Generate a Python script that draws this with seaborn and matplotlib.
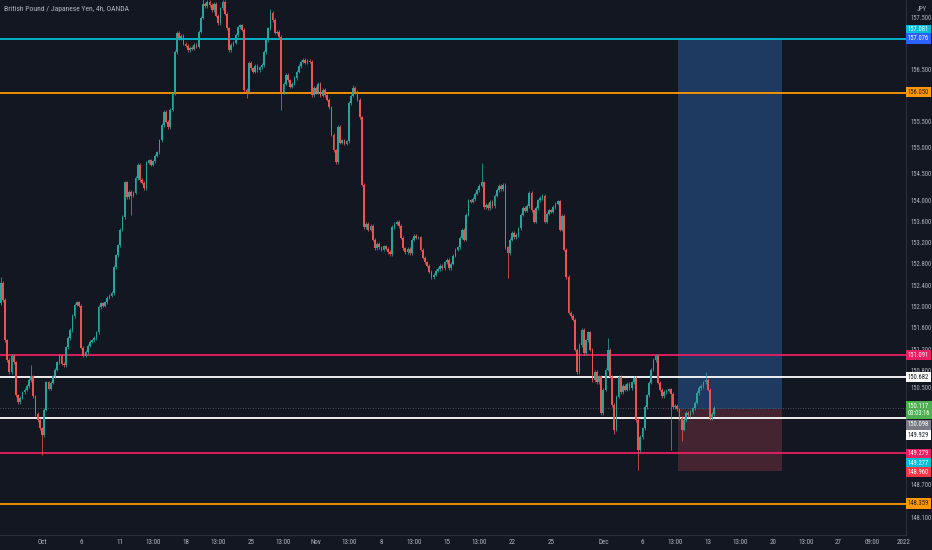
import matplotlib
matplotlib.use('Agg')
import matplotlib.pyplot as plt
import matplotlib.ticker as mticker
import matplotlib.transforms as mtrans
from matplotlib.patches import Rectangle
import seaborn as sns
import numpy as np

# ---- data (GBP/JPY, 4h candles) ----
first_open = 152.06
closes = [
    152.44, 152.12, 151.37, 151.00, 150.78, 151.08, 150.96, 150.35, 150.22, 150.30,
    150.40, 150.45, 150.52, 150.63, 150.70, 150.33, 150.00, 149.89, 149.74, 149.61,
    150.08, 150.59, 150.47, 150.58, 150.70, 150.82, 150.96, 151.08, 150.93, 150.91,
    151.24, 151.41, 151.56, 151.82, 152.03, 152.08, 152.01, 151.23, 151.08, 151.15,
    151.27, 151.34, 151.37, 151.41, 151.52, 151.99, 152.06, 152.01, 152.08, 152.16,
    152.20, 152.25, 152.74, 152.96, 153.15, 153.44, 153.68, 154.34, 154.06, 154.16,
    154.08, 154.14, 154.42, 154.67, 154.38, 154.33, 154.23, 154.71, 154.76, 154.67,
    154.74, 154.84, 154.91, 155.14, 155.43, 155.68, 155.49, 155.39, 155.72, 156.04,
    156.83, 157.20, 157.10, 157.14, 156.99, 156.95, 156.87, 156.91, 156.89, 156.97,
    156.93, 157.22, 157.49, 157.76, 157.72, 157.80, 157.74,
    157.64, 157.76, 157.53, 157.39, 157.68, 157.80, 157.57, 157.29, 156.87, 156.97,
    157.01, 157.16, 157.31, 157.35, 157.26, 156.10, 156.06, 156.62, 156.52, 156.45,
    156.56, 156.48, 156.54, 156.58, 156.83, 157.06, 157.29, 157.59, 157.45, 157.20,
    157.22, 157.12, 156.06, 156.22, 156.39, 156.29, 156.16, 156.22, 156.33, 156.45,
    156.56, 156.64, 156.68, 156.62, 156.66, 156.64, 156.00, 156.14, 156.06, 156.22,
    155.99, 156.10, 156.00, 155.91, 155.77, 155.24, 154.95, 154.72, 155.39, 155.09,
    155.14, 155.07, 155.12, 155.85, 155.99, 156.14, 156.06, 155.91, 155.58, 154.29,
    153.49, 153.55, 153.44, 153.51, 153.25, 153.09, 153.17, 153.11,
    153.06, 153.13, 153.08, 153.02, 152.98, 153.49, 153.55, 153.59, 153.51, 153.29,
    153.09, 153.02, 153.08, 153.00, 153.25, 153.32, 153.29, 153.30, 153.06, 152.91,
    152.83, 152.76, 152.65, 152.55, 152.59, 152.67, 152.70, 152.76, 152.72, 152.83,
    152.87, 152.72, 152.80, 152.95, 153.06, 153.11, 153.29, 153.44, 153.25, 153.72,
    154.00, 153.97, 154.02, 154.12, 154.19, 154.27, 154.34, 153.87, 153.91, 153.85,
    153.97, 153.89, 154.08, 154.19, 154.27, 154.21, 154.29, 153.11, 153.00, 153.25,
    153.38, 153.30, 153.34, 153.47, 153.72, 153.85, 153.80, 153.89, 154.14, 153.81,
    153.59, 153.85, 154.00, 154.04, 154.08, 153.59, 153.74, 153.81, 153.78, 153.87,
    153.93, 153.98, 153.44, 153.70, 153.06, 152.55, 151.88, 151.82, 151.75, 151.19,
    150.78, 151.28, 151.56, 151.13, 151.37, 151.52, 151.19, 150.63, 150.78, 150.59,
    150.70, 150.02, 150.45, 150.82, 151.19, 150.69, 150.17, 149.71, 150.32, 150.69,
    150.41, 150.52, 150.45, 150.56, 150.48, 150.59, 150.67, 149.89, 149.34, 149.58,
    149.74, 150.13, 150.35, 150.58, 150.82, 151.00, 151.08, 150.58, 150.45, 150.33,
    150.41, 150.43,
    150.46, 150.37, 150.13, 150.15, 150.09, 149.93, 149.71, 149.89, 150.02, 149.98,
    150.04, 150.11, 150.21, 150.39, 150.48, 150.52, 150.59, 150.63, 150.45, 149.93,
    150.00, 150.117,
]
# candles with clearly visible long wicks
long_high_idx = [0, 14, 93, 124, 162, 221, 279, 301, 324]
long_high_val = [152.55, 150.91, 157.95, 157.66, 156.20, 154.70, 151.41, 151.10, 150.78]
long_low_idx = [19, 60, 113, 129, 154, 233, 282, 293, 308, 313]
long_low_val = [149.25, 153.72, 155.95, 155.72, 154.68, 152.54, 149.64, 148.97, 149.34, 149.50]

# time axis: candle index of Oct 1 and trading days after it
oct1_index = 19
bars_per_day = 6
tick_labels = ['Oct', '6', '11', '13:00', '18', '13:00', '25', '13:00', 'Nov', '13:00',
               '8', '13:00', '15', '13:00', '22', '25', 'Dec', '6', '13:00', '13',
               '13:00', '20', '13:00', '27', '09:00', '2022']
tick_days = [0, 3, 6, 8.5, 11, 13.5, 16, 18.5, 21, 23.5, 26, 28.5, 31, 33.5, 36, 39,
             43, 46, 48.5, 51, 53.5, 56, 58.5, 61, 63.6, 66]

# horizontal levels
level_prices = [157.076, 156.050, 151.091, 150.682, 149.929, 149.279, 148.359]
level_colors = ['#00bcd4', '#ff9800', '#e91e63', '#ffffff', '#ffffff', '#e91e63', '#ff9800']

# long position tool
pos_entry = 150.098
pos_target = 157.081
pos_stop = 148.960
pos_start_day = 48.7
pos_end_day = 56.7

# right axis scale
ytick_vals = [157.5, 156.5, 155.5, 155.0, 154.5, 154.0, 153.6, 153.2, 152.8, 152.4,
              152.0, 151.6, 151.2, 150.8, 150.5, 150.2, 148.7, 148.1]

# coloured price tags on the axis: text, shown at, background, text colour
tag_texts = ['157.081', '157.076', '156.050', '151.091', '150.682', '150.117\n03:03:16',
             '150.098', '149.929', '149.279', '149.277', '148.960', '148.359']
tag_at = [157.26, 157.09, 156.06, 151.09, 150.68, 150.08, 149.80, 149.61, 149.27, 149.10,
          148.93, 148.36]
tag_bg = ['#00bcd4', '#2962ff', '#ff9800', '#e91e63', '#ffffff', '#4caf50', '#787b86',
          '#ffffff', '#e91e63', '#00bcd4', '#f23645', '#ff9800']
tag_fg = ['#ffffff', '#ffffff', '#1e1e1e', '#ffffff', '#131722', '#ffffff', '#ffffff',
          '#131722', '#ffffff', '#ffffff', '#ffffff', '#1e1e1e']

BG = '#131722'
GREEN = '#26a69a'
RED = '#ef5350'
TXT = '#b2b5be'

sns.set_theme(style='dark', rc={'axes.facecolor': BG, 'figure.facecolor': BG})
plt.rcParams['font.family'] = ['Roboto Condensed', 'DejaVu Sans']

fig = plt.figure(figsize=(9.32, 5.5), dpi=100)
ax = fig.add_axes([0, 15 / 550, 906 / 932, 535 / 550])
ax.set_facecolor(BG)

n = len(closes)
idx = np.arange(n)
c = np.array(closes)
o = np.r_[first_open, c[:-1]]
body_lo = np.minimum(o, c)
body_hi = np.maximum(o, c)
highs = body_hi + 0.03
lows = body_lo - 0.03
highs[long_high_idx] = np.maximum(highs[long_high_idx], long_high_val)
lows[long_low_idx] = np.minimum(lows[long_low_idx], long_low_val)
cols = np.where(c >= o, GREEN, RED)

ax.set_yscale('log')
ax.vlines(idx, lows, highs, colors=cols, linewidth=0.55, zorder=4)
ax.bar(idx, np.maximum(body_hi - body_lo, 0.012), bottom=body_lo, width=0.8,
       color=cols, linewidth=0, zorder=5)

# position boxes
x0 = oct1_index + bars_per_day * pos_start_day
x1 = oct1_index + bars_per_day * pos_end_day
ax.add_patch(Rectangle((x0, pos_entry), x1 - x0, pos_target - pos_entry,
                       facecolor='#1f3a60', edgecolor='none', zorder=1))
ax.add_patch(Rectangle((x0, pos_stop), x1 - x0, pos_entry - pos_stop,
                       facecolor='#432430', edgecolor='none', zorder=1))

for p, col in zip(level_prices, level_colors):
    ax.axhline(p, color=col, linewidth=1.3, zorder=3)
ax.axhline(closes[-1], color='#5d606b', linewidth=0.6, linestyle=(0, (1, 2)), zorder=2)

ax.set_xlim(-0.3, 416.1)
ax.set_ylim(147.786, 157.837)

ax.set_xticks(oct1_index + bars_per_day * np.array(tick_days))
ax.set_xticklabels(tick_labels)
ax.yaxis.tick_right()
ax.yaxis.set_major_locator(mticker.FixedLocator(ytick_vals))
ax.yaxis.set_major_formatter(mticker.FuncFormatter(lambda v, _: f'{v:.3f}'))
ax.yaxis.set_minor_locator(mticker.NullLocator())
ax.tick_params(axis='y', length=0, labelsize=4.7, colors=TXT, pad=3)
ax.tick_params(axis='x', length=0, labelsize=5, colors=TXT, pad=3)
ax.grid(False)

for side in ['top', 'left']:
    ax.spines[side].set_visible(False)
for side in ['right', 'bottom']:
    ax.spines[side].set_color('#2a2e39')
    ax.spines[side].set_linewidth(0.8)

tr = mtrans.blended_transform_factory(ax.transAxes, ax.transData)
for t, y, bg, fg in zip(tag_texts, tag_at, tag_bg, tag_fg):
    ax.text(1.002, y, t, transform=tr, fontsize=4.7, color=fg, ha='left', va='center',
            linespacing=1.1, clip_on=False, zorder=10,
            bbox=dict(boxstyle='square,pad=0.25', facecolor=bg, edgecolor='none'))

ax.text(1.012, 0.982, 'JPY', transform=ax.transAxes, fontsize=4.7, color=TXT,
        ha='left', va='center', clip_on=False)
ax.text(0.004, 0.983, 'British Pound / Japanese Yen, 4h, OANDA', transform=ax.transAxes,
        fontsize=5.5, color=TXT, ha='left', va='center')

fig.savefig('out.png', dpi=100, facecolor=BG)
